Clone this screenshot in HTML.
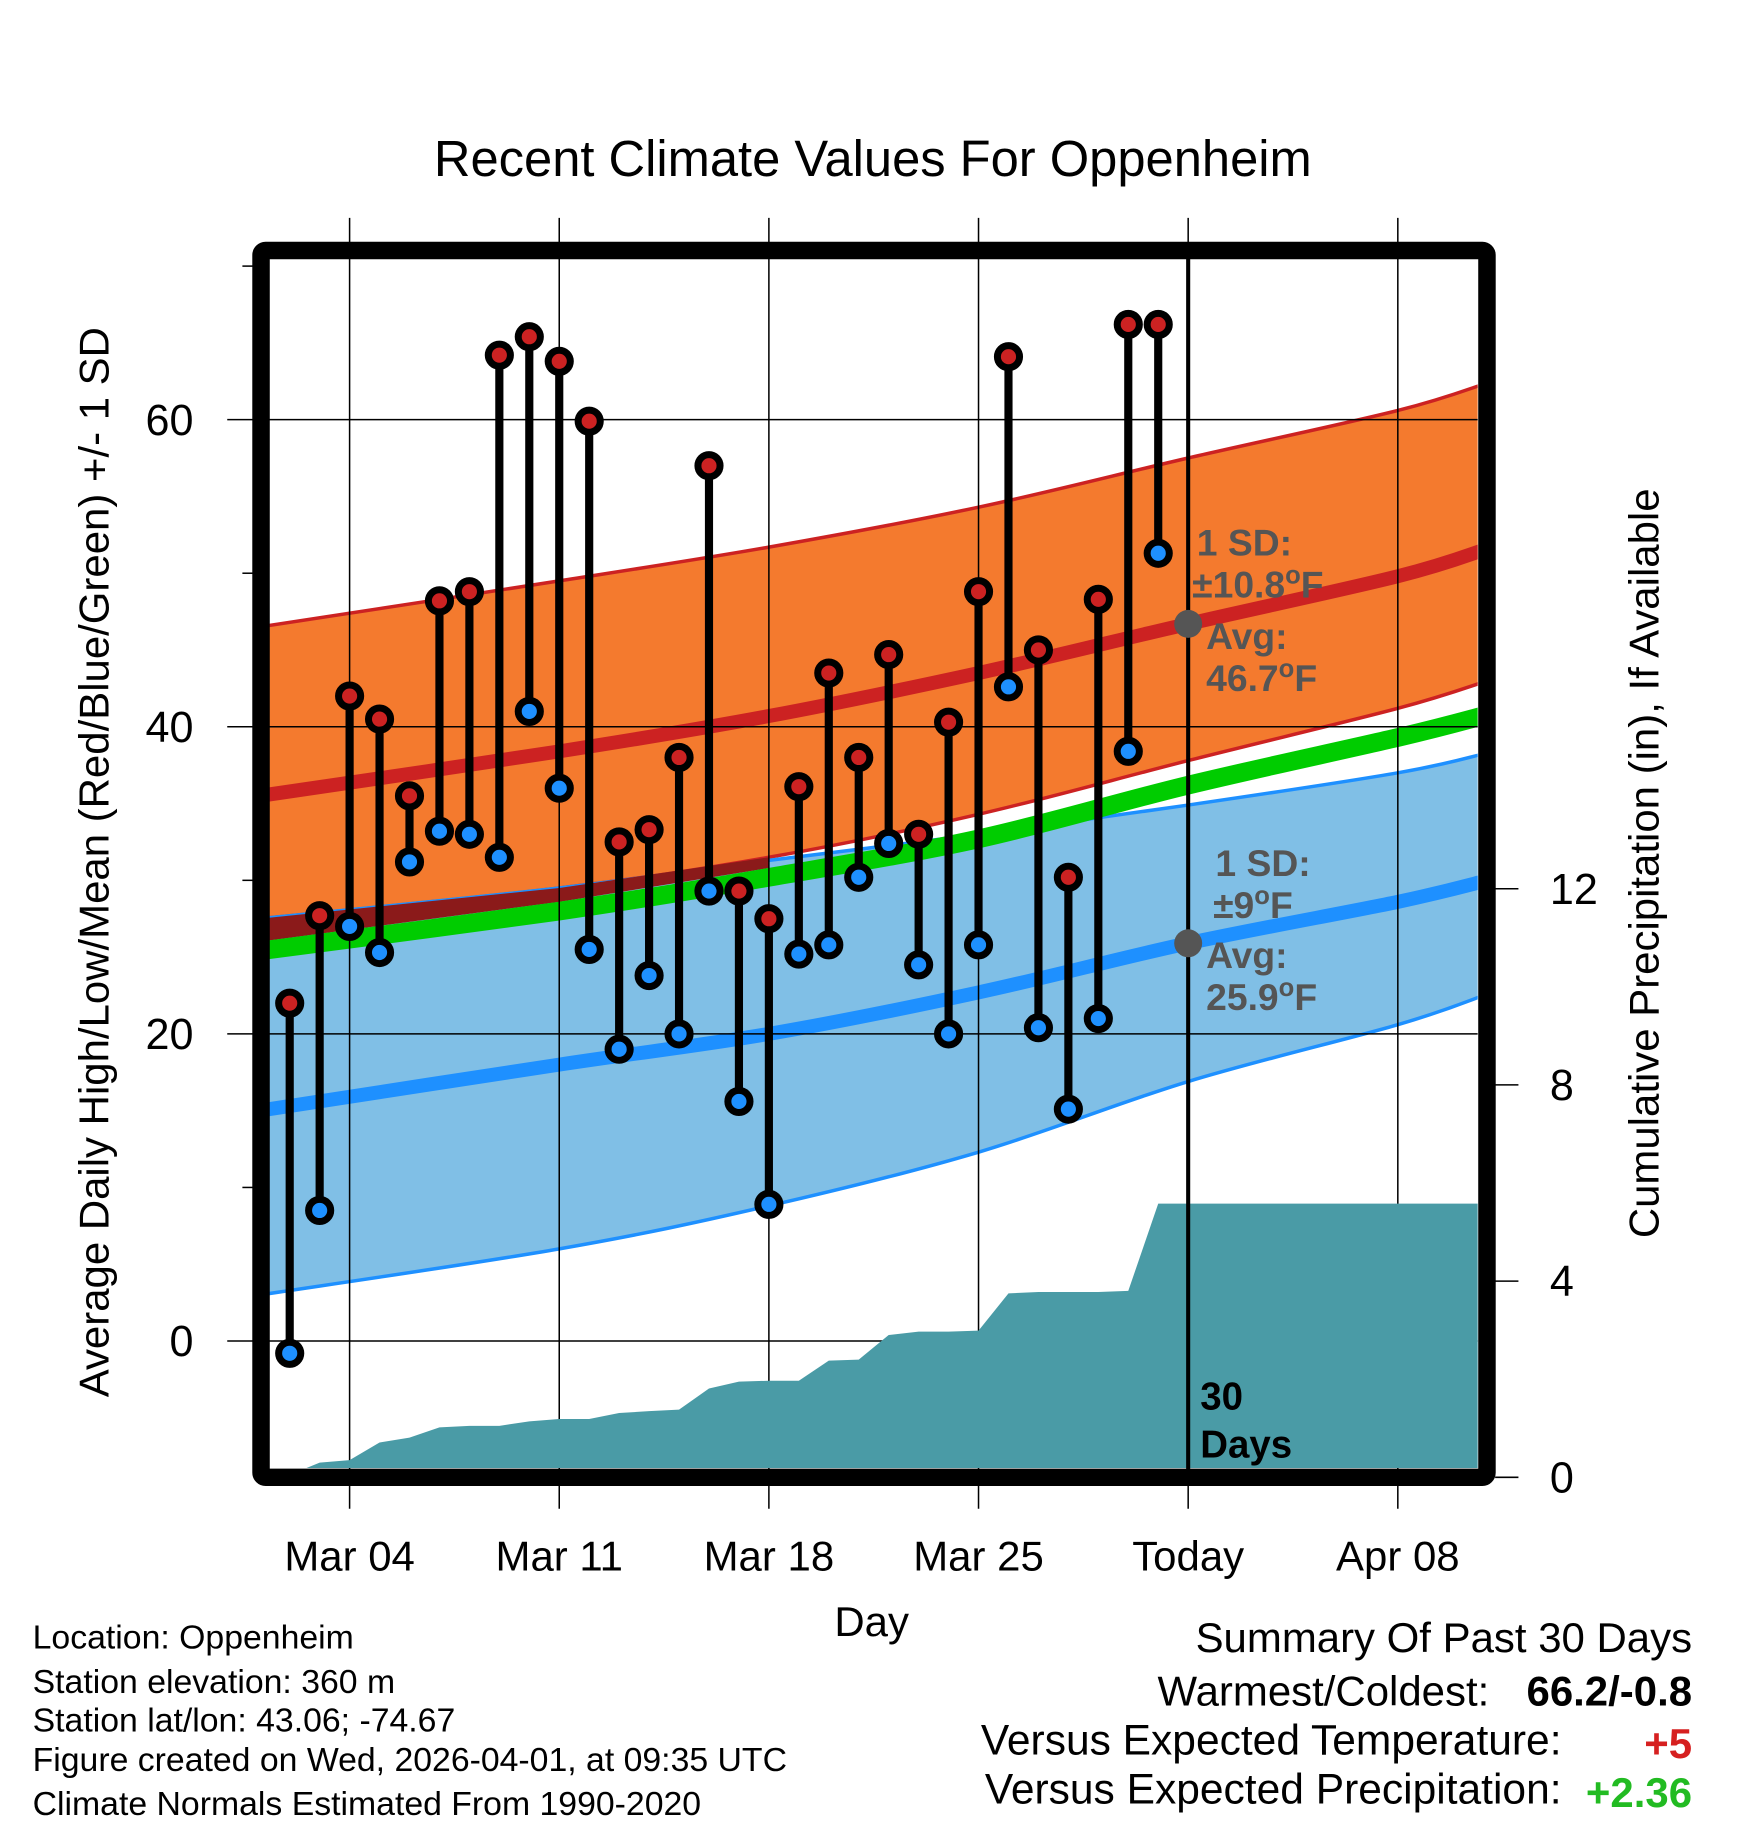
<!DOCTYPE html>
<html><head><meta charset="utf-8"><title>Recent Climate Values For Oppenheim</title>
<style>
html,body{margin:0;padding:0;background:#fff;}
svg{display:block;font-family:"Liberation Sans",Arial,sans-serif;}
</style></head>
<body>
<svg id="chart" width="1748" height="1828" viewBox="0 0 1500 1569" preserveAspectRatio="none" xmlns="http://www.w3.org/2000/svg">
<defs><clipPath id="plotclip"><rect x="231" y="222" width="1037" height="1038"/></clipPath></defs>
<rect width="1500" height="1569" fill="#fff"/>
<text x="749" y="151" font-size="43.5" text-anchor="middle">Recent Climate Values For Oppenheim</text>
<g id="bands" clip-path="url(#plotclip)"></g>
<g id="grid"></g>
<g id="precip" clip-path="url(#plotclip)"></g>
<g id="marks"></g>
<g id="frame"></g>
<g id="labels"></g>
</svg>
<script>
// ---- data ----
const dayLabels = ["Mar 04","Mar 11","Mar 18","Mar 25","Today","Apr 08"];
const dayLabelDays = [3,10,17,24,31,38];
const obsDays = [1,2,3,4,5,6,7,8,9,10,11,12,13,14,15,16,17,18,19,20,21,22,23,24,25,26,27,28,29,30];
const highs = [22,27.7,42,40.5,35.5,48.2,48.8,64.2,65.4,63.8,59.9,32.5,33.3,38,57,29.3,27.5,36.1,43.5,38,44.7,33,40.3,48.8,64.1,45,30.2,48.3,66.2,66.2];
const lows = [-0.8,8.5,27,25.3,31.2,33.2,33,31.5,41,36,25.5,19,23.8,20,29.3,15.6,8.9,25.2,25.8,30.2,32.4,24.5,20,25.8,42.6,20.4,15.1,21,38.4,51.3];
const precip = [0.05,0.3,0.35,0.71,0.81,1.02,1.05,1.05,1.14,1.19,1.19,1.31,1.35,1.38,1.81,1.95,1.97,1.97,2.38,2.40,2.90,2.97,2.97,2.99,3.75,3.78,3.78,3.78,3.80,5.58];
const normDays = [0,10,17,24,31,38,41];
const highUp = [46.5,49.5,51.7,54.3,57.5,60.6,62.4];
const highAvg = [35.5,38.4,40.7,43.5,46.7,49.8,51.6];
const highLo = [27.5,29.5,31.5,34.3,37.8,41.2,43.0];
const lowUp = [27.5,29.5,31.3,33.0,34.9,37.0,38.3];
const lowAvg = [15.0,18.0,20.0,22.7,25.9,28.6,30.0];
const lowLo = [3.0,6.0,8.8,12.3,16.9,20.6,22.6];
const meanAvg = [25.4,28.0,30.2,32.7,36.2,39.3,40.8];
const yTicks = [0,20,40,60];
const yMinor = [10,30,50,70];
const pTicks = [0,4,8,12];

// ---- axes ----
const X = d => 222.9 + d*25.7;
const Y = v => 1151 - v*13.18;
const P = p => 1268 - p*42.1;
const NS = "http://www.w3.org/2000/svg";
function mk(tag, parent, attrs, text){
  const e = document.createElementNS(NS, tag);
  for (const k in attrs) e.setAttribute(k, attrs[k]);
  if (text !== undefined) e.textContent = text;
  parent.appendChild(e); return e;
}
const bands = document.getElementById('bands');
const grid = document.getElementById('grid');
const precipG = document.getElementById('precip');
const marks = document.getElementById('marks');
const frame = document.getElementById('frame');
const labels = document.getElementById('labels');

// smooth path through nodes (Catmull-Rom)
function pts(arr){ return normDays.map((d,i)=>[X(d), Y(arr[i])]); }
function smooth(p, move){
  let s = (move ? 'M' : 'L') + p[0][0].toFixed(1)+','+p[0][1].toFixed(1);
  for (let i=0;i<p.length-1;i++){
    const p0=p[Math.max(0,i-1)], p1=p[i], p2=p[i+1], p3=p[Math.min(p.length-1,i+2)];
    const c1=[p1[0]+(p2[0]-p0[0])/6, p1[1]+(p2[1]-p0[1])/6];
    const c2=[p2[0]-(p3[0]-p1[0])/6, p2[1]-(p3[1]-p1[1])/6];
    s += ' C'+c1.map(v=>v.toFixed(1)).join(',')+' '+c2.map(v=>v.toFixed(1)).join(',')+' '+p2.map(v=>v.toFixed(1)).join(',');
  }
  return s;
}
function linePath(arr){ return smooth(pts(arr), true); }
function bandPath(up, lo){ return smooth(pts(up), true) + ' ' + smooth(pts(lo).reverse(), false) + ' Z'; }

let e;
e = mk('path', bands, {d: bandPath(highUp, highLo), fill:'#f47a2e'});


e = mk('path', bands, {d: linePath(highUp), fill:'none', stroke:'#cc2222', 'stroke-width':3});


e = mk('path', bands, {d: linePath(highLo), fill:'none', stroke:'#cc2222', 'stroke-width':3});


e = mk('path', bands, {d: linePath(highAvg), fill:'none', stroke:'#cc2222', 'stroke-width':12});


e = mk('path', bands, {d: bandPath(lowUp, lowLo), fill:'#80bfe6'});


e = mk('path', bands, {d: linePath(lowUp), fill:'none', stroke:'#1e90ff', 'stroke-width':3});


e = mk('path', bands, {d: linePath(lowLo), fill:'none', stroke:'#1e90ff', 'stroke-width':3});


// dark overlap strip
const dr = normDays.slice(0,3);
const drPts = dr.map((d,i)=>X(d)+','+Y(highLo[i])).concat(dr.map((d,i)=>X(d)+','+Y(meanAvg[i]+0.6)).reverse());
e = mk('polygon', bands, {points: drPts.join(' '), fill:'#8b1a1a'});


e = mk('path', bands, {d: linePath(lowAvg), fill:'none', stroke:'#1e90ff', 'stroke-width':12});


e = mk('path', bands, {d: linePath(meanAvg), fill:'none', stroke:'#00cc00', 'stroke-width':16});



// grid
yTicks.forEach(v=>{
  e = mk('line', grid, {x1:195, x2:1268, y1:Y(v), y2:Y(v), stroke:'#000', 'stroke-width':1.3});
  
  
  e = mk('text', labels, {x:166, y:Y(v)+13, 'font-size':37, 'text-anchor':'end'}, String(v));
  
  
});
yMinor.forEach(v=>{
  e = mk('line', grid, {x1:208, x2:220, y1:Y(v), y2:Y(v), stroke:'#000', 'stroke-width':1.3});
  
  
});
dayLabelDays.forEach((d,i)=>{
  e = mk('line', grid, {x1:X(d), x2:X(d), y1:187, y2:1295, stroke:'#000', 'stroke-width':1.3});
  
  
  e = mk('text', labels, {x:X(d), y:1348, 'font-size':36, 'text-anchor':'middle'}, dayLabels[i]);
  
  
});
pTicks.forEach(p=>{
  e = mk('line', grid, {x1:1283, x2:1303, y1:P(p), y2:P(p), stroke:'#000', 'stroke-width':1.3});
  
  
  e = mk('text', labels, {x:1330, y:P(p)+13, 'font-size':37}, String(p));
  
  
});

// precipitation area
const pp = [];
pp.push(X(obsDays[0])+','+P(0));
obsDays.forEach((d,i)=>pp.push(X(d).toFixed(1)+','+P(precip[i]).toFixed(1)));
pp.push('1275,'+P(precip[precip.length-1]).toFixed(1));
pp.push('1275,'+P(0));
e = mk('polygon', precipG, {points: pp.join(' '), fill:'#4a9ba6'});



// today line
e = mk('line', marks, {x1:X(31), x2:X(31), y1:222, y2:1262, stroke:'#000', 'stroke-width':3.5});


e = mk('circle', marks, {cx:X(31), cy:Y(highAvg[4]), r:12, fill:'#555'});


e = mk('circle', marks, {cx:X(31), cy:Y(lowAvg[4]), r:12, fill:'#555'});



// daily stems
obsDays.forEach((d,i)=>{
  const g = mk('g', marks, {});
  
  
  e = mk('line', g, {x1:X(d), x2:X(d), y1:Y(highs[i]), y2:Y(lows[i]), stroke:'#000', 'stroke-width':7});
  
  
  e = mk('circle', g, {cx:X(d), cy:Y(highs[i]), r:9.5, fill:'#cc2222', stroke:'#000', 'stroke-width':6});
  
  
  e = mk('circle', g, {cx:X(d), cy:Y(lows[i]), r:9.5, fill:'#1e90ff', stroke:'#000', 'stroke-width':6});
  
  
});

// frame
e = mk('rect', frame, {x:224, y:215, width:1052, height:1053, fill:'none', stroke:'#000', 'stroke-width':15, rx:4});



// annotations
function annText(x, y, main, name){
  const t = mk('text', labels, {x:x, y:y, 'font-size':32, 'font-weight':'bold', fill:'#555'});
  
  
  const parts = main.split('°');
  mk('tspan', t, {}, parts[0]);
  if (parts.length > 1){
    mk('tspan', t, {dy:-12, 'font-size':22}, 'o');
    mk('tspan', t, {dy:12}, parts[1]);
  }
  return t;
}
annText(1027,477,'1 SD:','high-sd-label');
annText(1023,513,'±10.8°F','high-sd-value');
annText(1035,557,'Avg:','high-avg-label');
annText(1035,593,'46.7°F','high-avg-value');
annText(1043,752,'1 SD:','low-sd-label');
annText(1041,788,'±9°F','low-sd-value');
annText(1035,831,'Avg:','low-avg-label');
annText(1035,867,'25.9°F','low-avg-value');
e = mk('text', labels, {x:1030, y:1210, 'font-size':33, 'font-weight':'bold'}, '30');


e = mk('text', labels, {x:1030, y:1251, 'font-size':33, 'font-weight':'bold'}, 'Days');



e = mk('text', labels, {x:748, y:1404, 'font-size':36, 'text-anchor':'middle'}, 'Day');


e = mk('text', labels, {x:0, y:0, 'font-size':36, 'text-anchor':'middle', transform:'translate(93,740) rotate(-90)'}, 'Average Daily High/Low/Mean (Red/Blue/Green) +/- 1 SD');


e = mk('text', labels, {x:0, y:0, 'font-size':36, 'text-anchor':'middle', transform:'translate(1423,741) rotate(-90)'}, 'Cumulative Precipitation (in), If Available');



const info = [['Location: Oppenheim',1415],['Station elevation: 360 m',1453],['Station lat/lon: 43.06; -74.67',1486],['Figure created on Wed, 2026-04-01, at 09:35 UTC',1520],['Climate Normals Estimated From 1990-2020',1558]];
info.forEach(t=>{
  e = mk('text', labels, {x:28, y:t[1], 'font-size':29}, t[0]);
  
  
});
e = mk('text', labels, {x:1452, y:1418, 'font-size':36, 'text-anchor':'end'}, 'Summary Of Past 30 Days');


e = mk('text', labels, {x:1278, y:1464, 'font-size':36, 'text-anchor':'end'}, 'Warmest/Coldest:');


e = mk('text', labels, {x:1452, y:1464, 'font-size':36, 'font-weight':'bold', 'text-anchor':'end'}, '66.2/-0.8');


e = mk('text', labels, {x:1340, y:1506, 'font-size':36.5, 'text-anchor':'end'}, 'Versus Expected Temperature:');


e = mk('text', labels, {x:1452, y:1509, 'font-size':36, 'font-weight':'bold', 'text-anchor':'end', fill:'#d62020'}, '+5');


e = mk('text', labels, {x:1340, y:1548, 'font-size':36.5, 'text-anchor':'end'}, 'Versus Expected Precipitation:');


e = mk('text', labels, {x:1452, y:1551, 'font-size':36, 'font-weight':'bold', 'text-anchor':'end', fill:'#22bb22'}, '+2.36');


</script>
</body></html>
